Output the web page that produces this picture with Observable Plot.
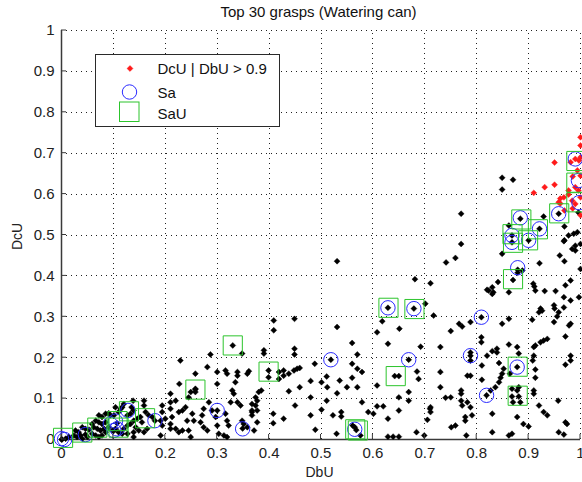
<!DOCTYPE html>
<html><head><meta charset="utf-8">
<script src="https://cdn.jsdelivr.net/npm/d3@7"></script>
<script src="https://cdn.jsdelivr.net/npm/@observablehq/plot@0.6"></script>
<style>body{margin:0;background:#fff;}</style>
</head><body><div id="chart"></div>
<script>
const title = "Top 30 grasps (Watering can)";
const xLabel = "DbU";
const yLabel = "DcU";
const legendLabels = ["DcU | DbU > 0.9", "Sa", "SaU"];
const tickValues = [0, 0.1, 0.2, 0.3, 0.4, 0.5, 0.6, 0.7, 0.8, 0.9, 1];
const tickLabels = ["0", "0.1", "0.2", "0.3", "0.4", "0.5", "0.6", "0.7", "0.8", "0.9", "1"];

// all grasps (black)
const allDbU = [0.000,0.001,0.008,0.014,0.024,0.030,0.040,0.050,0.027,0.033,0.037,0.040,0.046,0.053,0.059,0.062,0.069,0.075,0.082,0.085,0.059,0.066,0.072,0.078,0.066,0.072,0.078,0.085,0.072,0.078,0.085,0.091,0.101,0.104,0.110,0.117,0.120,0.114,0.094,0.091,0.098,0.104,0.110,0.117,0.120,0.127,0.133,0.139,0.146,0.152,0.155,0.143,0.149,0.159,0.127,0.133,0.139,0.135,0.138,0.159,0.159,0.162,0.168,0.175,0.139,0.139,0.127,0.165,0.194,0.194,0.200,0.194,0.191,0.191,0.210,0.210,0.210,0.213,0.210,0.210,0.220,0.226,0.233,0.229,0.227,0.220,0.226,0.233,0.239,0.242,0.245,0.252,0.255,0.245,0.249,0.258,0.258,0.258,0.249,0.281,0.287,0.300,0.300,0.284,0.274,0.271,0.268,0.274,0.281,0.290,0.297,0.300,0.303,0.316,0.319,0.339,0.339,0.358,0.361,0.326,0.339,0.345,0.332,0.316,0.319,0.322,0.348,0.351,0.313,0.319,0.367,0.367,0.371,0.358,0.335,0.329,0.330,0.348,0.390,0.390,0.409,0.409,0.449,0.449,0.449,0.399,0.399,0.419,0.419,0.438,0.448,0.454,0.374,0.380,0.385,0.377,0.374,0.377,0.367,0.367,0.377,0.408,0.408,0.428,0.450,0.459,0.480,0.459,0.438,0.480,0.480,0.489,0.501,0.488,0.511,0.501,0.511,0.512,0.531,0.536,0.523,0.539,0.539,0.530,0.531,0.560,0.570,0.560,0.570,0.579,0.560,0.550,0.570,0.579,0.591,0.601,0.576,0.565,0.568,0.561,0.608,0.608,0.620,0.608,0.629,0.618,0.651,0.642,0.650,0.685,0.688,0.669,0.669,0.650,0.650,0.629,0.629,0.639,0.650,0.684,0.699,0.692,0.710,0.701,0.629,0.679,0.519,0.669,0.531,0.681,0.711,0.741,0.717,0.750,0.766,0.772,0.788,0.809,0.809,0.809,0.849,0.862,0.823,0.830,0.862,0.913,0.949,0.950,0.981,0.968,0.958,0.920,0.926,0.955,0.949,0.981,0.907,0.971,0.936,0.929,0.923,0.913,0.862,0.839,0.839,0.830,0.788,0.788,0.788,0.730,0.820,0.878,0.881,0.878,0.910,0.910,0.908,0.981,0.981,0.971,0.843,0.852,0.849,0.846,0.843,0.810,0.810,0.782,0.788,0.730,0.730,0.913,0.913,0.864,0.836,0.827,0.819,0.868,0.878,0.881,0.868,0.881,0.870,0.884,0.910,0.910,0.920,0.929,0.936,0.957,0.971,0.974,0.740,0.750,0.770,0.770,0.770,0.772,0.782,0.788,0.791,0.711,0.711,0.705,0.751,0.759,0.778,0.778,0.780,0.830,0.830,0.862,0.868,0.890,0.900,0.958,0.968,0.878,0.978,0.770,0.770,0.759,0.849,0.884,0.921,0.929,0.958,0.868,0.868,0.900,0.862,0.879,0.879,0.870,0.841,0.830,0.820,0.832,0.909,0.911,0.931,0.952,0.921,0.960,0.969,0.969,0.977,0.987,0.994,0.984,0.990,0.990,1.000,0.981,0.971,0.968,0.923,1.000,0.997,0.969,0.849,0.870,0.849,0.888,0.968,0.996,0.428,0.428,0.180,0.300,0.349,0.101,0.107,0.046,0.258];
const allDcU = [0.000,0.000,0.002,0.006,0.010,0.006,0.002,0.006,0.022,0.018,0.010,0.030,0.026,0.024,0.038,0.030,0.026,0.022,0.026,0.018,0.014,0.010,0.006,0.010,0.046,0.042,0.038,0.042,0.059,0.055,0.063,0.064,0.059,0.079,0.067,0.079,0.087,0.075,0.059,0.030,0.022,0.026,0.018,0.014,0.026,0.034,0.038,0.046,0.051,0.055,0.042,0.030,0.022,0.018,0.059,0.063,0.071,0.079,0.095,0.095,0.083,0.067,0.059,0.055,0.018,0.006,0.014,0.026,0.083,0.067,0.051,0.034,0.010,0.046,0.112,0.091,0.075,0.055,0.038,0.026,0.026,0.018,0.022,0.193,0.136,0.095,0.067,0.071,0.079,0.046,0.103,0.063,0.046,0.022,0.006,0.161,0.124,0.116,0.116,0.177,0.208,0.165,0.136,0.091,0.075,0.059,0.042,0.030,0.022,0.071,0.055,0.034,0.014,0.169,0.161,0.165,0.156,0.161,0.167,0.091,0.091,0.083,0.112,0.063,0.046,0.034,0.046,0.038,0.010,0.006,0.071,0.059,0.022,0.030,0.140,0.120,0.230,0.210,0.218,0.210,0.291,0.267,0.295,0.222,0.208,0.169,0.152,0.165,0.148,0.161,0.169,0.173,0.103,0.116,0.120,0.095,0.083,0.071,0.087,0.067,0.042,0.063,0.040,0.051,0.083,0.175,0.143,0.128,0.118,0.103,0.059,0.024,0.073,0.185,0.154,0.140,0.095,0.128,0.113,0.144,0.059,0.067,0.056,0.014,0.275,0.236,0.208,0.185,0.173,0.165,0.151,0.128,0.128,0.091,0.067,0.063,0.010,0.030,0.023,0.034,0.132,0.081,0.081,0.262,0.234,0.289,0.271,0.155,0.155,0.166,0.148,0.116,0.095,0.103,0.071,0.051,0.007,0.007,0.007,0.018,0.010,0.227,0.075,0.332,0.322,0.320,0.195,0.195,0.436,0.392,0.382,0.433,0.303,0.265,0.283,0.276,0.287,0.299,0.250,0.238,0.283,0.295,0.364,0.356,0.360,0.364,0.328,0.320,0.340,0.323,0.311,0.311,0.315,0.301,0.287,0.283,0.293,0.252,0.246,0.242,0.238,0.230,0.232,0.222,0.213,0.216,0.205,0.213,0.193,0.226,0.205,0.226,0.210,0.177,0.226,0.205,0.193,0.205,0.193,0.183,0.187,0.173,0.161,0.151,0.140,0.181,0.146,0.156,0.156,0.165,0.128,0.171,0.151,0.161,0.128,0.120,0.108,0.124,0.120,0.128,0.105,0.105,0.091,0.091,0.120,0.112,0.083,0.067,0.059,0.095,0.042,0.038,0.102,0.103,0.120,0.112,0.095,0.083,0.091,0.079,0.059,0.079,0.067,0.048,0.030,0.034,0.055,0.046,0.010,0.063,0.018,0.010,0.014,0.038,0.032,0.018,0.012,0.055,0.279,0.552,0.478,0.444,0.454,0.540,0.515,0.545,0.552,0.499,0.482,0.487,0.523,0.415,0.408,0.390,0.385,0.372,0.366,0.360,0.381,0.374,0.363,0.363,0.431,0.450,0.436,0.487,0.499,0.503,0.507,0.466,0.474,0.462,0.478,0.389,0.377,0.348,0.320,0.417,0.348,0.521,0.640,0.635,0.611,0.413,0.485,0.555,0.169,0.156,0.046,0.071,0.027,0.022,0.040,0.012,0.122];

// DcU | DbU > 0.9 (red)
const redDbU = [0.950,0.950,0.931,0.910,0.961,0.961,0.968,0.977,0.977,0.981,0.990,0.997,1.000,1.000,1.000,0.994,0.985,0.990,0.984,0.990,0.985,0.996,1.000,1.000,0.958,0.969,1.000];
const redDcU = [0.677,0.623,0.617,0.603,0.589,0.577,0.592,0.609,0.599,0.678,0.686,0.682,0.690,0.739,0.719,0.658,0.643,0.617,0.584,0.576,0.565,0.609,0.645,0.592,0.580,0.560,0.548];

// Sa (blue circles)
const saDbU = [0.000,0.006,0.046,0.101,0.094,0.104,0.128,0.180,0.300,0.349,0.519,0.565,0.629,0.679,0.669,0.809,0.788,0.878,0.819,0.879,0.884,0.921,0.958,0.868,0.868,0.900,0.990,0.996,0.997,0.107];
const saDcU = [0.002,0.000,0.012,0.022,0.038,0.045,0.071,0.046,0.071,0.026,0.195,0.025,0.322,0.320,0.195,0.299,0.205,0.177,0.108,0.420,0.542,0.515,0.552,0.499,0.482,0.487,0.686,0.633,0.579,0.026];

// SaU (green squares)
const sauDbU = [0.003,0.040,0.069,0.108,0.110,0.130,0.161,0.258,0.330,0.399,0.566,0.571,0.630,0.680,0.644,0.879,0.879,0.870,0.886,0.918,0.959,0.869,0.870,0.899,0.992,0.992,0.992];
const sauDcU = [0.004,0.017,0.029,0.045,0.029,0.069,0.052,0.122,0.230,0.166,0.025,0.022,0.322,0.319,0.155,0.178,0.107,0.392,0.538,0.514,0.553,0.502,0.481,0.487,0.681,0.628,0.580];

const toPts = (xs, ys) => xs.map((x, i) => ({x, y: ys[i]}));
const allPts = toPts(allDbU, allDcU);
const redPts = toPts(redDbU, redDcU);
const saPts = toPts(saDbU, saDcU);
const sauPts = toPts(sauDbU, sauDcU);

const FONT = "'Liberation Sans', Arial, Helvetica, sans-serif";
const fmt = d => tickLabels[tickValues.indexOf(d)];
const gridVals = tickValues.slice(1);
const RED = "#ff1a1a", BLUE = "#2a2aff", GREEN = "#2cc42c", AXIS = "#3a3a3a", GRID = "#222";

const plot = Plot.plot({
  width: 582, height: 482,
  marginLeft: 61, marginRight: 2, marginTop: 30, marginBottom: 43,
  style: {fontFamily: FONT, fontSize: "15px", color: "#222", background: "#fff"},
  x: {domain: [0, 1], ticks: tickValues, tickFormat: fmt, tickSize: 0, tickPadding: 8, label: null},
  y: {domain: [0, 1], ticks: tickValues, tickFormat: fmt, tickSize: 0, tickPadding: 7, label: null},
  marks: [
    Plot.ruleX([0], {stroke: AXIS, strokeWidth: 1.5}),
    Plot.ruleY([0], {stroke: AXIS, strokeWidth: 1.5}),
    Plot.dot(allPts, {x: "x", y: "y", symbol: "diamond2", r: 2.7, fill: "#000", stroke: "#000", strokeWidth: 0.4}),
    Plot.dot(redPts, {x: "x", y: "y", symbol: "diamond2", r: 2.7, fill: RED, stroke: RED, strokeWidth: 0.4}),
    Plot.dot(saPts, {x: "x", y: "y", symbol: "circle", r: 7.2, fill: "none", stroke: BLUE, strokeWidth: 1}),
    Plot.dot(sauPts, {x: "x", y: "y", symbol: "square", r: 10.8, fill: "none", stroke: GREEN, strokeWidth: 1})
  ]
});
document.getElementById("chart").appendChild(plot);

const svg = d3.select(plot);
const sx = plot.scale("x"), sy = plot.scale("y");
const x0 = sx.apply(0), x1 = sx.apply(1), y0 = sy.apply(0), y1 = sy.apply(1);

// dotted grid, placed beneath the data marks, positioned with Plot's own scales
const firstMark = plot.querySelector('g[aria-label="rule"]') || plot.querySelector('g[aria-label="dot"]');
const gridG = d3.select(plot.insertBefore(document.createElementNS("http://www.w3.org/2000/svg", "g"), firstMark))
  .attr("stroke", GRID).attr("stroke-width", 1).attr("stroke-dasharray", "1,4").attr("fill", "none");
gridVals.forEach(v => {
  const px = Math.round(sx.apply(v)) + 0.5;
  const py = Math.round(sy.apply(v)) + 0.5;
  gridG.append("path").attr("d", `M${px},${y0}V${y1}`);
  gridG.append("path").attr("d", `M${x0},${py}H${x1}`);
});

// inward ticks
const tg = svg.append("g").attr("stroke", AXIS).attr("stroke-width", 1).attr("fill", "none");
tickValues.forEach(v => {
  tg.append("path").attr("d", `M${sx.apply(v)},${y0}V${y0 - 5}`);
  tg.append("path").attr("d", `M${x0},${sy.apply(v)}H${x0 + 5}`);
});

// title and axis labels
svg.append("text").attr("x", (x0 + x1) / 2 - 2).attr("y", 16.5).attr("text-anchor", "middle")
  .attr("font-family", FONT).attr("font-size", 15).attr("fill", "#111").text(title);
svg.append("text").attr("x", (x0 + x1) / 2 - 1).attr("y", 477).attr("text-anchor", "middle")
  .attr("font-family", FONT).attr("font-size", 14).attr("fill", "#222").text(xLabel);
svg.append("text").attr("transform", `translate(21.5,${(y0 + y1) / 2 + 2}) rotate(-90)`).attr("text-anchor", "middle")
  .attr("font-family", FONT).attr("font-size", 14).attr("fill", "#222").text(yLabel);

// legend
const lg = svg.append("g");
lg.append("rect").attr("x", 95.5).attr("y", 54.5).attr("width", 184).attr("height", 72)
  .attr("fill", "#fff").attr("stroke", "#2a2a2a").attr("stroke-width", 1);
lg.append("path").attr("transform", "translate(130,68.5)")
  .attr("d", d3.symbol(d3.symbolDiamond2, Math.PI * 2.7 * 2.7)()).attr("fill", RED).attr("stroke", RED).attr("stroke-width", 0.4);
lg.append("circle").attr("cx", 129.5).attr("cy", 92).attr("r", 7.2).attr("fill", "none").attr("stroke", BLUE);
lg.append("rect").attr("x", 119.5).attr("y", 102).attr("width", 19.5).attr("height", 19.5).attr("fill", "none").attr("stroke", GREEN);
const ly = [74, 97.5, 118.5];
legendLabels.forEach((t, i) => {
  lg.append("text").attr("x", 157.5).attr("y", ly[i]).attr("text-anchor", "start")
    .attr("font-family", FONT).attr("font-size", 15).attr("fill", "#111").text(t);
});
</script>
</body></html>
